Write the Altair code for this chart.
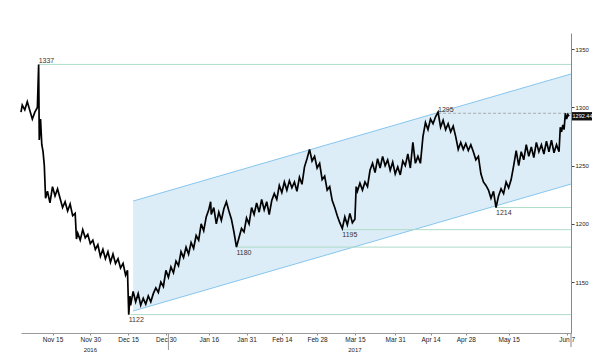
import altair as alt
import pandas as pd

# ---------------- data ----------------
dates = [
    "2016-11-02T12:00", "2016-11-03", "2016-11-04", "2016-11-05", "2016-11-07", "2016-11-08",
    "2016-11-09T00:00", "2016-11-09T12:00", "2016-11-09T18:00", "2016-11-10T06:00", "2016-11-10T18:00",
    "2016-11-11T06:00", "2016-11-11T18:00", "2016-11-12T06:00", "2016-11-13", "2016-11-14", "2016-11-15",
    "2016-11-16", "2016-11-17", "2016-11-18", "2016-11-19", "2016-11-20", "2016-11-21", "2016-11-22",
    "2016-11-23", "2016-11-24", "2016-11-24T12:00", "2016-11-25", "2016-11-26", "2016-11-27",
    "2016-11-28", "2016-11-29", "2016-11-30", "2016-12-01", "2016-12-02", "2016-12-03", "2016-12-04",
    "2016-12-05", "2016-12-06", "2016-12-07", "2016-12-08", "2016-12-09", "2016-12-10", "2016-12-11",
    "2016-12-12", "2016-12-13", "2016-12-14", "2016-12-14T18:00", "2016-12-15T06:00", "2016-12-15T18:00",
    "2016-12-16", "2016-12-17", "2016-12-18", "2016-12-19", "2016-12-20", "2016-12-21", "2016-12-22",
    "2016-12-23", "2016-12-24", "2016-12-25", "2016-12-26", "2016-12-27", "2016-12-28", "2016-12-29",
    "2016-12-30", "2016-12-31", "2017-01-01", "2017-01-02", "2017-01-03", "2017-01-04", "2017-01-05",
    "2017-01-06", "2017-01-07", "2017-01-08", "2017-01-09", "2017-01-10", "2017-01-11", "2017-01-12",
    "2017-01-13", "2017-01-14", "2017-01-15", "2017-01-16", "2017-01-16T18:00", "2017-01-17",
    "2017-01-18", "2017-01-19", "2017-01-20", "2017-01-21", "2017-01-22", "2017-01-23", "2017-01-24",
    "2017-01-25", "2017-01-26", "2017-01-27", "2017-01-28", "2017-01-29", "2017-01-30", "2017-01-31",
    "2017-02-01", "2017-02-02", "2017-02-03", "2017-02-04", "2017-02-05", "2017-02-06", "2017-02-07",
    "2017-02-08", "2017-02-09", "2017-02-10", "2017-02-11", "2017-02-12", "2017-02-13", "2017-02-14",
    "2017-02-15", "2017-02-16", "2017-02-17", "2017-02-18", "2017-02-19", "2017-02-20", "2017-02-21",
    "2017-02-22", "2017-02-23", "2017-02-24", "2017-02-25", "2017-02-26", "2017-02-27", "2017-02-28",
    "2017-03-01", "2017-03-02", "2017-03-03", "2017-03-04", "2017-03-05", "2017-03-06", "2017-03-07",
    "2017-03-08", "2017-03-09", "2017-03-10", "2017-03-11", "2017-03-12", "2017-03-13", "2017-03-14",
    "2017-03-15", "2017-03-15T12:00", "2017-03-16", "2017-03-17", "2017-03-18", "2017-03-19",
    "2017-03-20", "2017-03-21", "2017-03-22", "2017-03-23", "2017-03-24", "2017-03-25", "2017-03-26",
    "2017-03-27", "2017-03-28", "2017-03-29", "2017-03-30", "2017-03-31", "2017-04-01", "2017-04-02",
    "2017-04-03", "2017-04-04", "2017-04-05", "2017-04-06", "2017-04-07", "2017-04-08", "2017-04-09",
    "2017-04-10", "2017-04-11", "2017-04-12", "2017-04-13", "2017-04-14", "2017-04-15", "2017-04-16",
    "2017-04-17", "2017-04-18", "2017-04-19", "2017-04-20", "2017-04-21", "2017-04-22", "2017-04-23",
    "2017-04-24", "2017-04-25", "2017-04-26", "2017-04-27", "2017-04-28", "2017-04-29", "2017-04-30",
    "2017-05-01", "2017-05-02", "2017-05-03", "2017-05-04", "2017-05-05", "2017-05-06", "2017-05-07",
    "2017-05-08", "2017-05-09", "2017-05-10", "2017-05-11", "2017-05-12", "2017-05-13", "2017-05-14",
    "2017-05-15", "2017-05-16", "2017-05-17", "2017-05-18", "2017-05-19", "2017-05-20", "2017-05-21",
    "2017-05-22", "2017-05-23", "2017-05-24", "2017-05-25", "2017-05-26", "2017-05-27", "2017-05-28",
    "2017-05-29", "2017-05-30", "2017-05-31", "2017-06-01", "2017-06-02", "2017-06-03", "2017-06-04",
    "2017-06-04T12:00", "2017-06-05", "2017-06-05T12:00", "2017-06-06", "2017-06-06T12:00",
    "2017-06-07", "2017-06-07T12:00", "2017-06-08",
]
prices = [
    1296, 1302, 1298, 1305, 1290, 1296,
    1300, 1337, 1272, 1290, 1268,
    1262, 1250, 1222, 1228, 1218, 1232,
    1224, 1230, 1222, 1214, 1219, 1211, 1217,
    1207, 1209, 1187, 1192, 1186, 1195,
    1188, 1191, 1183, 1186, 1178, 1182, 1172,
    1178, 1170, 1176, 1167, 1174, 1166, 1170,
    1162, 1166, 1156, 1160, 1122, 1138,
    1130, 1142, 1133, 1140, 1130, 1136, 1131,
    1138, 1133, 1140, 1145, 1141, 1150, 1146,
    1160, 1154, 1163, 1158, 1168, 1164, 1176,
    1171, 1180, 1174, 1184, 1179, 1190, 1186,
    1200, 1194, 1206, 1212, 1219, 1208,
    1214, 1200, 1210, 1203, 1213, 1219, 1211,
    1204, 1193, 1180, 1188, 1196, 1193, 1205,
    1200, 1214, 1208, 1218, 1210, 1221, 1212,
    1219, 1208, 1220, 1226, 1221, 1233, 1227,
    1236, 1229, 1237, 1231, 1236, 1228, 1240,
    1234, 1249, 1256, 1264, 1254, 1258, 1248,
    1252, 1238, 1241, 1229, 1232, 1220, 1214,
    1207, 1201, 1196, 1206, 1199, 1209, 1201,
    1204, 1232, 1228, 1235, 1229, 1236,
    1232, 1246, 1252, 1244, 1256, 1248, 1258,
    1250, 1255, 1246, 1253, 1243, 1249, 1242,
    1254, 1250, 1260, 1248, 1270, 1252, 1258,
    1252, 1275, 1287, 1281, 1290, 1286, 1292,
    1296, 1283, 1289, 1281, 1286, 1279, 1284,
    1275, 1264, 1270, 1264, 1269, 1263, 1268,
    1262, 1255, 1258, 1243, 1236, 1233, 1229,
    1222, 1228, 1214, 1224, 1230, 1226, 1236,
    1231, 1238, 1250, 1263, 1250, 1262, 1255,
    1268, 1258, 1266, 1257, 1270, 1262, 1268,
    1260, 1271, 1262, 1272, 1261, 1268, 1262,
    1283, 1279, 1285, 1281, 1295,
    1290, 1294, 1292.44,
]

# channel (parallelogram)
channel_dates = ["2016-12-17", "2017-06-08T18:00"]
channel_upper = [1219.6, 1328.8]
channel_lower = [1125.1, 1234.2]

# horizontal support / resistance levels
level_values = [1337, 1122, 1180, 1195, 1214]
level_starts = ["2016-11-09T12:00", "2016-12-16", "2017-01-27", "2017-03-10", "2017-05-10"]

# annotations
ann_text = ["1337", "1122", "1180", "1195", "1295", "1214"]
ann_dates = ["2016-11-09T12:00", "2016-12-15T06:00", "2017-01-27", "2017-03-10", "2017-04-17", "2017-05-10"]
ann_values = [1337, 1122, 1180, 1195, 1295, 1214]
ann_pos = ["above", "below", "below", "below", "above", "below"]

resist_value = 1295
resist_start = "2017-04-17"

last_price = 1292.44

tick_dates = ["2016-11-15", "2016-11-30", "2016-12-15", "2016-12-30", "2017-01-16", "2017-01-31",
              "2017-02-14", "2017-02-28", "2017-03-15", "2017-03-31", "2017-04-14", "2017-04-28",
              "2017-05-15", "2017-06-07"]
y_ticks = [1150, 1200, 1250, 1300, 1350]
year_labels = ["2016", "2017"]
year_dates = ["2016-11-30", "2017-03-15"]
sep_dates = ["2016-12-31"]

x_start = "2016-11-02T12:00"
x_end = "2017-06-08T18:00"
y_domain = [1106.2, 1364.0]


def ms(d):
    return int((pd.Timestamp(d) - pd.Timestamp("1970-01-01")) // pd.Timedelta(milliseconds=1))


W, H = 550, 300
FONT = "Liberation Sans"

xscale = alt.Scale(domain=[ms(x_start), ms(x_end)], nice=False, zero=False)
yscale = alt.Scale(domain=y_domain, nice=False, zero=False)

x_axis = alt.Axis(values=[ms(d) for d in tick_dates],
                  labelExpr="utcFormat(datum.value, '%b %-d')",
                  title=None, grid=False, tickSize=2, tickColor="#888",
                  domainColor="#999", labelFontSize=6.5, labelColor="#222",
                  labelFont=FONT, labelPadding=1, labelFlush=False,
                  labelOverlap=False)
y_axis = alt.Axis(orient="right", values=y_ticks, format="d",
                  title=None, grid=False, tickSize=3, tickColor="#444",
                  domainColor="#888", labelFontSize=6, labelColor="#222",
                  labelFont=FONT, labelPadding=1)

price_df = pd.DataFrame({"t": [ms(d) for d in dates], "v": prices})
ch_df = pd.DataFrame({"t": [ms(d) for d in channel_dates], "upper": channel_upper, "lower": channel_lower})
lvl_df = pd.DataFrame({"t": [ms(d) for d in level_starts], "v": level_values})
ann_df = pd.DataFrame({"t": [ms(d) for d in ann_dates], "v": ann_values, "label": ann_text, "pos": ann_pos})
res_df = pd.DataFrame({"t": [ms(resist_start)], "v": [resist_value]})
tag_df = pd.DataFrame({"v": [last_price], "label": [f"{last_price:.2f}"]})
year_df = pd.DataFrame({"t": [ms(d) for d in year_dates], "label": year_labels})
sep_df = pd.DataFrame({"t": [ms(d) for d in sep_dates]})


def X(f="t"):
    return alt.X(f"{f}:Q", scale=xscale, axis=x_axis)


def Y(f="v"):
    return alt.Y(f"{f}:Q", scale=yscale, axis=y_axis)


area = alt.Chart(ch_df).mark_area(color="#dcedf7", opacity=1).encode(
    x=X(), y=Y("upper"), y2="lower:Q")

edge_up = alt.Chart(ch_df).mark_line(color="#86c6ee", strokeWidth=1).encode(x=X(), y=Y("upper"))
edge_lo = alt.Chart(ch_df).mark_line(color="#86c6ee", strokeWidth=1).encode(x=X(), y=Y("lower"))

levels = alt.Chart(lvl_df).mark_rule(color="#aedcc9", strokeWidth=1).encode(
    x=X(), x2=alt.value(W), y=Y())

resist = alt.Chart(res_df).mark_rule(color="#9a9a9a", strokeWidth=0.8, strokeDash=[3, 2]).encode(
    x=X(), x2=alt.value(W), y=Y())

price = alt.Chart(price_df).mark_line(color="#000000", strokeWidth=1.7, strokeJoin="miter").encode(
    x=X(), y=Y())

ann_above = alt.Chart(ann_df).transform_filter("datum.pos == 'above'").mark_text(
    align="left", baseline="bottom", dy=-0.5, fontSize=7, font=FONT, color="#333").encode(
    x=X(), y=Y(), text="label:N")
ann_below = alt.Chart(ann_df).transform_filter("datum.pos == 'below'").mark_text(
    align="left", baseline="top", dy=1.5, fontSize=7, font=FONT, color="#333").encode(
    x=X(), y=Y(), text="label:N")

tag_rect = alt.Chart(tag_df).transform_calculate(
    lo="datum.v - 3.6", hi="datum.v + 3.6").mark_rect(color="#111111").encode(
    x=alt.value(W + 1), x2=alt.value(W + 22), y=Y("lo"), y2="hi:Q")
tag_text = alt.Chart(tag_df).mark_text(
    align="center", baseline="middle", fontSize=5.5, font=FONT, color="white").encode(
    x=alt.value(W + 11.5), y=Y(), text="label:N")

years = alt.Chart(year_df).mark_text(fontSize=6, font=FONT, color="#222", baseline="middle").encode(
    x=X(), y=alt.value(H + 16.5), text="label:N")

seps = alt.Chart(sep_df).mark_rule(color="#999", strokeWidth=1).encode(
    x=X(), y=alt.value(H), y2=alt.value(H + 17))
right_ext = alt.Chart(sep_df).mark_rule(color="#888", strokeWidth=1).encode(
    x=alt.value(W), y=alt.value(H), y2=alt.value(H + 14))

chart = alt.layer(
    area, edge_up, edge_lo, levels, resist, price, ann_above, ann_below,
    tag_rect, tag_text, years, seps, right_ext
).properties(
    width=W, height=H,
    autosize=alt.AutoSizeParams(type="none"),
    padding={"left": 13, "right": 21, "top": 25, "bottom": 20},
    background="white",
).configure_view(stroke=None)

chart.save("out.html", embed_options={"renderer": "svg", "actions": False})
